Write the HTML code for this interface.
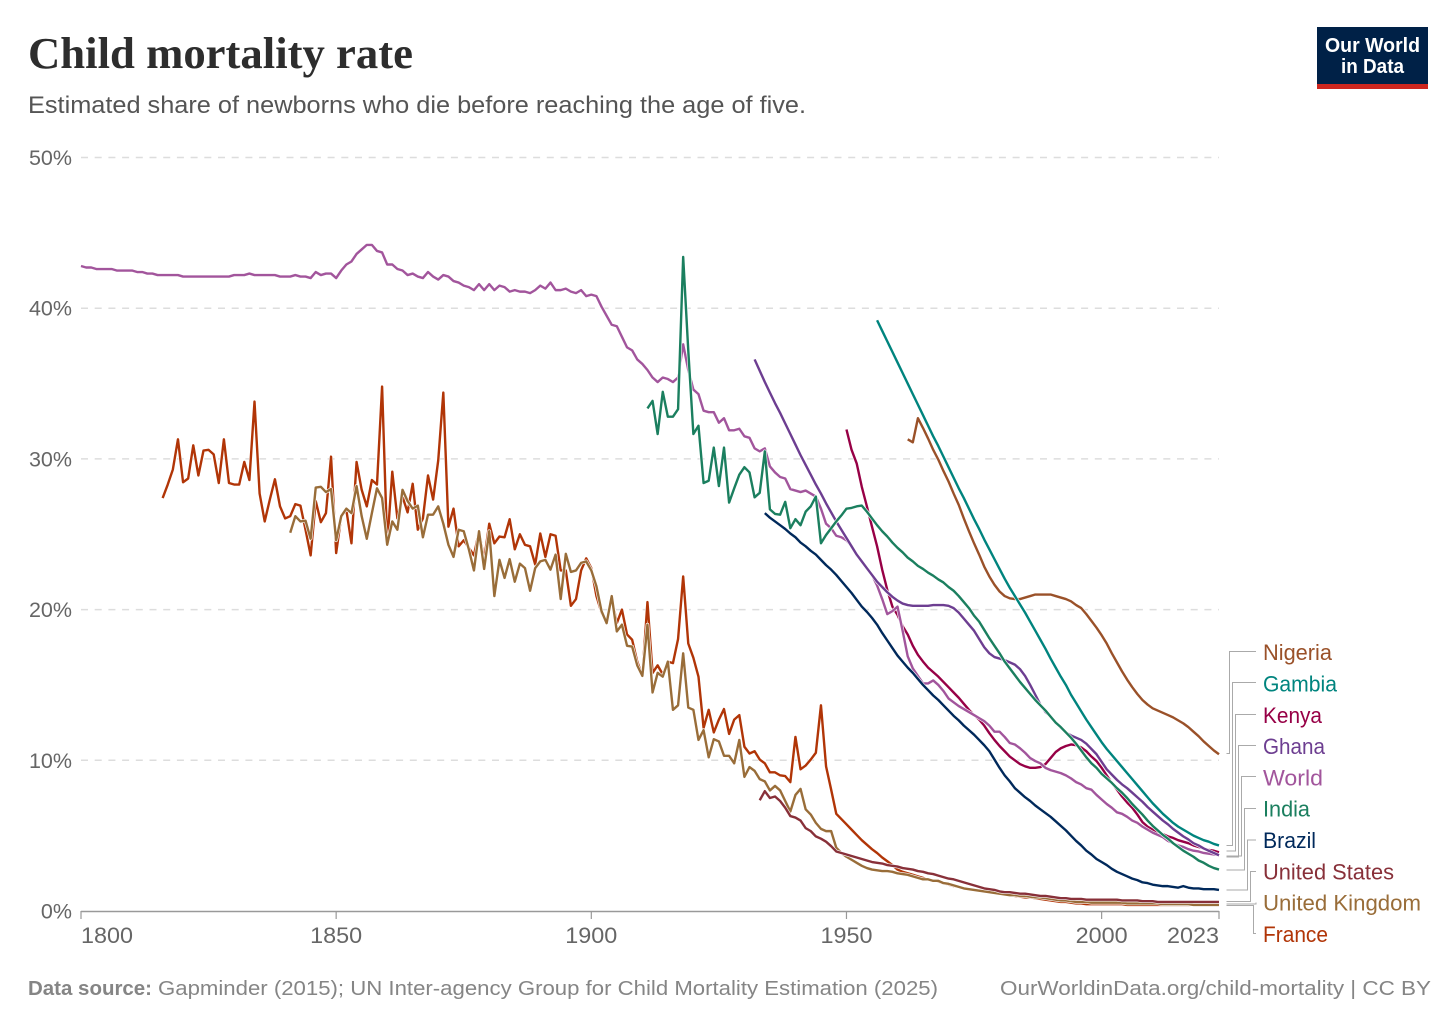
<!DOCTYPE html>
<html lang="en">
<head>
<meta charset="utf-8">
<title>Child mortality rate</title>
<style>
html,body{margin:0;padding:0;background:#fff;}
svg{display:block;}
text{font-family:"Liberation Sans",sans-serif;}
</style>
</head>
<body>
<svg id="chart" xmlns="http://www.w3.org/2000/svg" width="1456" height="1028" viewBox="0 0 1456 1028">
  <rect width="1456" height="1028" fill="#fff"/>
  <text x="28" y="68" font-size="44" font-weight="700" fill="#2d2d2d" textLength="385" lengthAdjust="spacingAndGlyphs" style="font-family:'Liberation Serif',serif">Child mortality rate</text>
  <text x="28" y="113" font-size="24" fill="#555" textLength="778" lengthAdjust="spacingAndGlyphs">Estimated share of newborns who die before reaching the age of five.</text>
  <g>
    <rect x="1317" y="27" width="111" height="62" fill="#002147"/>
    <rect x="1317" y="84" width="111" height="5" fill="#ce261e"/>
    <text x="1372.5" y="52" font-size="20" font-weight="700" fill="#fff" text-anchor="middle" textLength="95" lengthAdjust="spacingAndGlyphs">Our World</text>
    <text x="1372.5" y="73" font-size="20" font-weight="700" fill="#fff" text-anchor="middle" textLength="63" lengthAdjust="spacingAndGlyphs">in Data</text>
  </g>
  <g id="grid"></g>
  <g id="axes"></g>
  <g id="lines"></g>
  <g id="legend"></g>
  <text x="28" y="995" font-size="20" font-weight="700" fill="#858585" textLength="124" lengthAdjust="spacingAndGlyphs">Data source:</text>
  <text x="158" y="995" font-size="20" fill="#858585" textLength="780" lengthAdjust="spacingAndGlyphs">Gapminder (2015); UN Inter-agency Group for Child Mortality Estimation (2025)</text>
  <text x="1000" y="995" font-size="20" fill="#858585" textLength="431" lengthAdjust="spacingAndGlyphs">OurWorldinData.org/child-mortality | CC BY</text>
</svg>
<script>
const yTicks = [0, 10, 20, 30, 40, 50];
const xTicks = [1800, 1850, 1900, 1950, 2000, 2023];

const worldStart = 1800;
const worldValues = [
42.8,42.7,42.7,42.6,42.6,42.6,42.6,42.5,42.5,42.5,
42.5,42.4,42.4,42.3,42.3,42.2,42.2,42.2,42.2,42.2,
42.1,42.1,42.1,42.1,42.1,42.1,42.1,42.1,42.1,42.1,
42.2,42.2,42.2,42.3,42.2,42.2,42.2,42.2,42.2,42.1,
42.1,42.1,42.2,42.1,42.1,42.0,42.4,42.2,42.3,42.3,
42.0,42.5,42.9,43.1,43.6,43.9,44.2,44.2,43.8,43.7,
42.9,42.9,42.6,42.5,42.2,42.3,42.1,42.0,42.4,42.1,
41.9,42.2,42.1,41.8,41.7,41.5,41.4,41.2,41.6,41.2,
41.6,41.2,41.5,41.4,41.1,41.2,41.1,41.1,41.0,41.2,
41.5,41.3,41.7,41.2,41.2,41.3,41.1,41.0,41.2,40.8,
40.9,40.8,40.1,39.5,38.9,38.8,38.1,37.4,37.2,36.6,
36.3,35.9,35.4,35.1,35.4,35.3,35.1,35.4,37.6,35.9,
34.6,34.3,33.2,33.1,33.1,32.4,32.7,31.9,31.9,32.0,
31.5,31.4,30.7,30.5,30.7,29.5,29.1,28.8,28.7,28.0,
27.9,27.8,27.9,27.7,27.5,26.7,25.7,25.4,24.9,24.8,
24.6,24.2,23.6,23.2,22.7,22.3,21.6,20.7,19.7,19.9,
20.2,18.6,16.9,16.1,15.6,15.1,15.1,15.3,15.0,14.6,
14.1,13.85,13.6,13.4,13.2,13.0,12.8,12.6,12.3,11.9,
11.9,11.55,11.15,11.05,10.8,10.5,10.15,9.95,9.8,9.5,
9.35,9.25,9.15,9.0,8.8,8.55,8.4,8.15,8.05,7.7,
7.4,7.1,6.85,6.55,6.45,6.25,6.0,5.85,5.6,5.4,
5.2,5.05,4.9,4.65,4.5,4.35,4.25,4.1,4.0,3.95,
3.85,3.8,3.75,3.7];

const franceStart = 1816;
const franceValues = [
27.4,28.3,29.3,31.3,
28.45,28.7,30.9,28.9,30.55,30.6,30.3,28.4,31.3,28.4,
28.3,28.3,29.8,28.6,33.8,27.7,25.85,27.3,28.65,26.85,
26.05,26.2,27.0,26.9,25.3,23.6,27.2,25.8,26.4,30.15,
23.75,26.2,26.6,24.4,29.8,27.95,26.85,28.6,28.3,34.8,
24.3,29.15,26.05,27.5,26.45,28.35,25.3,26.05,28.9,27.3,
29.9,34.4,25.5,26.7,24.2,24.6,24.1,23.6,25.2,23.3,
25.7,24.4,24.85,24.8,26.0,24.0,25.0,24.3,24.2,23.0,
25.05,23.5,25.0,24.9,22.6,22.6,20.25,20.7,22.6,23.4,
22.75,20.9,19.8,19.1,20.8,19.1,20.0,18.35,18.0,16.55,
15.6,20.5,15.8,16.3,15.7,16.55,16.45,18.05,22.2,17.75,
16.8,15.55,12.15,13.35,11.85,12.7,13.4,11.75,12.7,13.0,
10.9,10.45,10.6,10.05,9.8,9.2,9.2,9.0,8.95,8.55,
11.55,9.4,9.65,10.05,10.5,13.65,9.6,8.05,6.45,6.1,
5.75,5.4,5.05,4.7,4.4,4.1,3.85,3.55,3.3,3.05,
2.75,2.6,2.5,2.4,2.3,2.2,2.1,2.0,1.95,1.85,
1.75,1.65,1.6,1.5,1.45,1.4,1.35,1.3,1.25,1.25,
1.15,1.1,1.05,1.0,0.95,0.9,0.9,0.85,0.8,0.75,
0.7,0.65,0.6,0.6,0.55,0.5,0.5,0.45,0.45,0.45,
0.45,0.45,0.45,0.45,0.45,0.4,0.4,0.4,0.4,0.4,
0.4,0.4,0.4,0.4,0.4,0.4,0.4,0.4,0.4,0.4,
0.4,0.4,0.4,0.4];

const ukStart = 1841;
const ukValues = [
25.1,26.2,25.85,25.9,24.7,28.1,28.15,27.8,28.0,
24.6,26.2,26.7,26.4,28.2,26.2,24.7,26.4,28.05,27.4,
24.3,25.85,25.3,27.95,27.2,26.7,26.9,24.8,26.3,26.3,
26.85,25.7,24.3,23.5,25.3,25.2,24.0,22.6,25.2,22.7,
25.2,20.9,23.3,22.1,23.35,21.85,23.05,22.75,21.25,22.75,
23.2,23.3,22.65,23.65,20.7,23.7,22.5,22.6,23.1,23.2,
22.6,21.55,19.9,19.1,20.9,18.55,19.0,17.6,17.55,16.3,
15.6,19.0,14.5,15.8,15.55,16.55,13.35,13.65,17.1,13.5,
13.35,11.35,12.0,10.2,11.4,11.25,10.3,10.3,9.8,11.35,
8.9,9.55,9.3,8.75,8.6,8.0,8.3,8.0,7.3,6.6,
7.7,8.1,6.75,6.4,5.85,5.45,5.3,5.3,4.2,3.85,
3.6,3.4,3.2,3.0,2.85,2.75,2.7,2.65,2.65,2.6,
2.5,2.45,2.4,2.3,2.2,2.1,2.1,2.0,2.0,1.85,
1.8,1.7,1.6,1.5,1.45,1.4,1.35,1.3,1.25,1.2,
1.15,1.1,1.05,1.05,1.0,1.0,0.95,0.9,0.9,0.85,
0.8,0.75,0.7,0.7,0.65,0.6,0.6,0.6,0.55,0.55,
0.55,0.55,0.55,0.55,0.55,0.5,0.5,0.5,0.5,0.5,
0.5,0.5,0.45,0.45,0.45,0.45,0.45,0.45,0.4,0.4,
0.4,0.4,0.4,0.4];

const usaStart = 1933;
const usaValues = [
7.35,7.95,7.5,7.6,7.3,6.85,6.3,
6.2,6.0,5.5,5.3,4.95,4.8,4.6,4.3,3.95,3.85,
3.75,3.65,3.55,3.45,3.35,3.25,3.2,3.15,3.05,3.0,
2.95,2.85,2.8,2.75,2.65,2.6,2.5,2.45,2.35,2.25,
2.15,2.1,2.0,1.9,1.8,1.7,1.6,1.5,1.45,1.4,
1.3,1.25,1.25,1.2,1.15,1.15,1.1,1.05,1.0,1.0,
0.95,0.9,0.85,0.85,0.8,0.8,0.8,0.75,0.75,0.75,
0.75,0.75,0.75,0.75,0.7,0.7,0.7,0.7,0.65,0.65,
0.65,0.6,0.6,0.6,0.6,0.6,0.6,0.6,0.6,0.6,
0.6,0.6,0.6,0.6];

const brazilStart = 1934;
const brazilValues = [
26.4,26.1,25.85,25.6,25.35,25.05,
24.8,24.45,24.2,23.9,23.65,23.3,22.95,22.65,22.3,21.9,
21.5,21.1,20.65,20.2,19.85,19.45,19.0,18.45,17.95,17.45,
16.95,16.55,16.15,15.8,15.4,15.0,14.65,14.3,14.0,13.65,
13.3,12.95,12.65,12.3,12.0,11.7,11.35,11.0,10.6,10.05,
9.5,9.0,8.6,8.15,7.85,7.55,7.3,7.0,6.75,6.5,
6.25,5.95,5.65,5.35,5.0,4.65,4.35,4.0,3.75,3.45,
3.25,3.05,2.8,2.6,2.45,2.3,2.15,2.05,1.9,1.85,
1.75,1.7,1.65,1.65,1.6,1.55,1.65,1.55,1.5,1.5,
1.45,1.45,1.45,1.4];

const indiaStart = 1911;
const indiaValues = [
33.35,33.85,31.65,34.45,32.8,32.8,33.3,43.4,37.2,
31.65,32.2,28.4,28.55,30.75,28.2,30.75,27.1,28.05,28.95,
29.45,29.1,27.45,27.75,30.5,26.65,26.35,26.3,27.15,25.4,
26.0,25.6,26.5,26.85,27.5,24.4,24.95,25.4,25.85,26.25,
26.7,26.75,26.85,26.9,26.5,26.05,25.6,25.2,24.85,24.45,
24.1,23.8,23.45,23.2,22.9,22.7,22.45,22.25,22.0,21.8,
21.5,21.25,20.9,20.5,20.1,19.6,19.2,18.65,18.1,17.6,
17.1,16.55,16.1,15.65,15.2,14.8,14.4,14.0,13.65,13.3,
12.9,12.5,12.2,11.85,11.5,11.1,10.65,10.2,9.8,9.5,
9.1,8.8,8.5,8.15,7.85,7.5,7.1,6.75,6.4,6.0,
5.65,5.35,5.05,4.8,4.5,4.25,4.0,3.8,3.6,3.35,
3.2,3.0,2.85,2.75];

const ghanaStart = 1932;
const ghanaValues = [
36.6,35.85,35.1,34.4,33.7,33.05,32.35,31.65,
30.95,30.25,29.6,28.95,28.3,27.7,27.05,26.45,25.85,25.3,
24.75,24.2,23.65,23.2,22.75,22.3,21.85,21.5,21.15,20.85,
20.6,20.4,20.3,20.25,20.25,20.25,20.25,20.3,20.3,20.3,
20.25,20.1,19.8,19.4,19.0,18.6,18.05,17.5,17.1,16.85,
16.75,16.65,16.5,16.35,16.05,15.6,15.0,14.35,13.7,13.2,
12.9,12.5,12.15,11.85,11.65,11.5,11.35,11.1,10.75,10.4,
9.9,9.4,9.05,8.7,8.4,8.15,7.85,7.55,7.25,6.9,
6.6,6.3,6.0,5.75,5.45,5.2,4.95,4.75,4.5,4.35,
4.15,4.0,3.85,3.7];

const kenyaStart = 1950;
const kenyaValues = [
31.95,30.6,29.7,28.15,26.85,25.5,24.2,22.65,21.3,20.2,
19.65,18.9,18.35,17.6,17.0,16.55,16.15,15.85,15.55,15.2,
14.85,14.5,14.15,13.75,13.35,13.0,12.7,12.3,11.8,11.35,
10.95,10.6,10.25,10.0,9.75,9.6,9.5,9.5,9.55,9.75,
10.15,10.55,10.8,10.95,11.05,11.0,10.85,10.6,10.25,9.95,
9.5,9.0,8.5,8.05,7.6,7.2,6.85,6.4,5.9,5.6,
5.4,5.25,5.1,4.95,4.85,4.7,4.6,4.5,4.35,4.25,
4.15,4.05,4.0,3.9];

const gambiaStart = 1956;
const gambiaValues = [
39.2,38.5,37.8,37.1,
36.4,35.7,35.0,34.3,33.6,32.9,32.2,31.5,30.85,30.15,
29.45,28.75,28.05,27.4,26.7,26.0,25.35,24.65,24.0,23.35,
22.7,22.05,21.45,20.9,20.35,19.8,19.2,18.6,18.0,17.4,
16.75,16.15,15.55,15.0,14.35,13.8,13.25,12.7,12.2,11.7,
11.2,10.75,10.35,9.95,9.55,9.15,8.75,8.35,7.95,7.55,
7.15,6.8,6.45,6.15,5.85,5.6,5.4,5.2,5.0,4.85,
4.7,4.6,4.45,4.35];

const nigeriaStart = 1962;
const nigeriaValues = [
31.3,31.1,32.7,32.05,31.35,30.6,29.95,29.2,
28.5,27.7,26.95,26.05,25.2,24.4,23.65,22.85,22.2,21.65,
21.2,20.9,20.75,20.7,20.7,20.8,20.9,21.0,21.0,21.0,
21.0,20.9,20.8,20.7,20.55,20.3,20.1,19.7,19.25,18.8,
18.3,17.75,17.1,16.5,15.9,15.35,14.85,14.4,14.0,13.7,
13.45,13.3,13.15,13.0,12.85,12.65,12.45,12.2,11.9,11.6,
11.25,10.95,10.65,10.4];

const legendLabels = ["Nigeria","Gambia","Kenya","Ghana","World","India","Brazil","United States","United Kingdom","France"];

const NS = "http://www.w3.org/2000/svg";
const xScale = function (year) { return 81 + (year - 1800) * (1219 - 81) / 223; };
const yScale = function (pct) { return 911 - pct * 15.07; };

const gridG = document.getElementById("grid");
const axesG = document.getElementById("axes");
const linesG = document.getElementById("lines");
const legendG = document.getElementById("legend");

yTicks.forEach(function (t) {
  if (t > 0) {
    const g = document.createElementNS(NS, "line");
    
    
    g.setAttribute("x1", xScale(1800));
    g.setAttribute("x2", xScale(2023));
    g.setAttribute("y1", yScale(t));
    g.setAttribute("y2", yScale(t));
    g.setAttribute("stroke", "#dddddd");
    g.setAttribute("stroke-width", "1.5");
    g.setAttribute("stroke-dasharray", "7 6.7");
    gridG.appendChild(g);
  }
  const lab = document.createElementNS(NS, "text");
  
  
  lab.setAttribute("x", 72);
  lab.setAttribute("y", yScale(t) + 7.5);
  lab.setAttribute("text-anchor", "end");
  lab.setAttribute("font-size", "21.5");
  lab.setAttribute("fill", "#666");
  lab.textContent = t + "%";
  axesG.appendChild(lab);
});

const axisLine = document.createElementNS(NS, "line");


axisLine.setAttribute("x1", xScale(1800));
axisLine.setAttribute("x2", xScale(2023));
axisLine.setAttribute("y1", 911.5);
axisLine.setAttribute("y2", 911.5);
axisLine.setAttribute("stroke", "#999");
axisLine.setAttribute("stroke-width", "1.5");
axesG.appendChild(axisLine);

xTicks.forEach(function (t, i) {
  const tick = document.createElementNS(NS, "line");
  
  
  tick.setAttribute("x1", xScale(t));
  tick.setAttribute("x2", xScale(t));
  tick.setAttribute("y1", 911);
  tick.setAttribute("y2", 919);
  tick.setAttribute("stroke", "#999");
  tick.setAttribute("stroke-width", "1.2");
  axesG.appendChild(tick);
  const lab = document.createElementNS(NS, "text");
  
  
  lab.setAttribute("x", xScale(t));
  lab.setAttribute("y", 943);
  lab.setAttribute("text-anchor", i === 0 ? "start" : (i === xTicks.length - 1 ? "end" : "middle"));
  lab.setAttribute("font-size", "22.5");
  lab.setAttribute("fill", "#666");
  lab.setAttribute("textLength", "52");
  lab.setAttribute("lengthAdjust", "spacingAndGlyphs");
  lab.textContent = String(t);
  axesG.appendChild(lab);
});

function drawSeries(key, start, values, color) {
  const d = values.map(function (v, i) {
    return (i ? "L" : "M") + xScale(start + i).toFixed(2) + " " + yScale(v).toFixed(2);
  }).join("");
  const halo = document.createElementNS(NS, "path");
  
  
  halo.setAttribute("d", d);
  halo.setAttribute("fill", "none");
  halo.setAttribute("stroke", "#fff");
  halo.setAttribute("stroke-width", "3.6");
  halo.setAttribute("stroke-linejoin", "round");
  linesG.appendChild(halo);
  const path = document.createElementNS(NS, "path");
  
  
  path.setAttribute("d", d);
  path.setAttribute("fill", "none");
  path.setAttribute("stroke", color);
  path.setAttribute("stroke-width", "2.4");
  path.setAttribute("stroke-linejoin", "round");
  linesG.appendChild(path);
}

drawSeries("france", franceStart, franceValues, "#B13507");
drawSeries("kenya", kenyaStart, kenyaValues, "#970046");
drawSeries("world", worldStart, worldValues, "#A2559C");
drawSeries("ghana", ghanaStart, ghanaValues, "#6D3E91");
drawSeries("nigeria", nigeriaStart, nigeriaValues, "#9A5129");
drawSeries("gambia", gambiaStart, gambiaValues, "#00847E");
drawSeries("india", indiaStart, indiaValues, "#1B7F5F");
drawSeries("uk", ukStart, ukValues, "#996D39");
drawSeries("usa", usaStart, usaValues, "#883039");
drawSeries("brazil", brazilStart, brazilValues, "#00295B");

const legendColors = ["#9A5129","#00847E","#970046","#6D3E91","#A2559C","#1B7F5F","#00295B","#883039","#996D39","#B13507"];
const legendBaselines = [660,691.5,723,754,785.5,816.5,848,879.5,910.5,942];
const legendWidths = [69,74,59,62,60,47,53,131,158,65];
const connectorPaths = [
  "M1226.5 753.5H1229.5V651.5H1256",
  "M1226.5 845.5H1232.5V682.5H1256",
  "M1226.5 851H1235.5V714.5H1256",
  "M1226.5 857H1238.5V745.5H1256",
  "M1226.5 856H1241.5V776.5H1256",
  "M1226.5 870H1244.5V808.5H1256",
  "M1226.5 890H1247.5V840H1256",
  "M1226.5 901.5H1250.5V871.5H1256",
  "M1226.5 904H1256V902.5",
  "M1226.5 905.5H1253.5V933.5H1256"
];

legendLabels.forEach(function (label, i) {
  const c = document.createElementNS(NS, "path");
  
  
  c.setAttribute("d", connectorPaths[i]);
  c.setAttribute("fill", "none");
  c.setAttribute("stroke", "#aaa");
  c.setAttribute("stroke-width", "1");
  legendG.appendChild(c);
  const t = document.createElementNS(NS, "text");
  
  
  t.setAttribute("x", 1263);
  t.setAttribute("y", legendBaselines[i]);
  t.setAttribute("font-size", "22");
  t.setAttribute("fill", legendColors[i]);
  t.setAttribute("textLength", legendWidths[i]);
  t.setAttribute("lengthAdjust", "spacingAndGlyphs");
  t.textContent = label;
  legendG.appendChild(t);
});
</script>
</body>
</html>
